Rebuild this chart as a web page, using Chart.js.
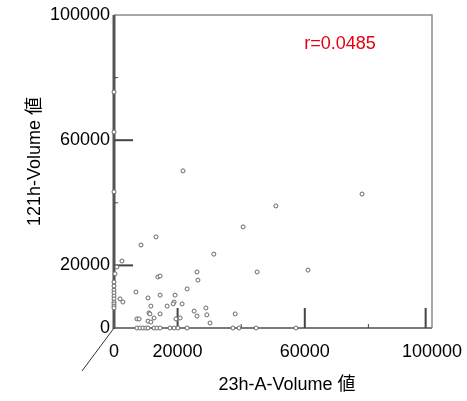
<!DOCTYPE html>
<html>
<head>
<meta charset="utf-8">
<script src="https://cdn.jsdelivr.net/npm/chart.js@4.4.1/dist/chart.umd.min.js"></script>
<style>
  body { margin: 0; background: #fff; }
  canvas { display: block; }
</style>
</head>
<body>
<canvas id="scatter" width="467" height="401"></canvas>
<script>
// values
const xValues = [
    0, 0, 0, 900, 300,
    0, 0, 0, 0, 0, 0, 0, 0, 0, 0,
    2500, 1900, 2800, 8500, 6900, 13800, 14500, 10700, 14500, 19200,
    11600, 18900, 18600, 16700, 21400, 11000, 11300, 14500, 12600, 7200,
    7900, 10700, 19500, 20800, 11600,
    7200, 8200, 9100, 10000, 10700, 12600, 13500, 14500, 17600, 18900, 20100,
    31400, 26100, 26400, 23000, 45000, 25200, 26100, 28900, 29200, 30200,
    23000, 38100, 37400, 39300, 44700, 61000, 57200, 40600, 50900, 78000,
    21700, 13200
];
const yValues = [
    75400, 62600, 43500, 19500, 17300,
    14700, 13400, 12100, 11200, 10200, 9300, 8300, 7700, 7000, 6400,
    21400, 9300, 8300, 26500, 11500, 16300, 16600, 9600, 10500, 10500,
    7000, 8300, 7700, 7000, 7700, 4800, 4500, 4500, 3200, 2900,
    2900, 2200, 2900, 3200, 1900,
    0, 0, 0, 0, 0, 0, 0, 0, 0, 0, 0,
    23600, 17900, 15300, 12500, 17900, 5400, 3800, 6400, 4200, 1600,
    0, 4500, 0, 0, 0, 18500, 0, 32300, 39000, 42800,
    50200, 29100
];
const xTicks = [0, 20000, 60000, 100000];
const yTicks = [0, 20000, 60000, 100000];
const xMajorMarks = [20000, 60000, 98000];
const xMinorMarks = [40000, 80000];
const yMajorMarks = [20000, 60000];
const yMinorMarks = [40000, 80000];
const xTitle = '23h-A-Volume 値';
const yTitle = '121h-Volume 値';
const rText = 'r=0.0485';

const FONT = "'Liberation Sans', 'Noto Sans CJK JP', sans-serif";

const points = xValues.map((x, i) => ({ x: x, y: yValues[i] }));

// frame, tick marks, titles
const frame = {
    id: 'frame',
    beforeDatasetsDraw(chart) {
        const ctx = chart.ctx;
        const a = chart.chartArea;
        const sx = chart.scales.x, sy = chart.scales.y;
        ctx.save();
        ctx.lineCap = 'butt';

        // top + right border
        ctx.strokeStyle = '#8a8a8a';
        ctx.lineWidth = 1.5;
        ctx.beginPath();
        ctx.moveTo(a.left, a.top);
        ctx.lineTo(a.right, a.top);
        ctx.lineTo(a.right, a.bottom);
        ctx.stroke();

        // bottom axis
        ctx.strokeStyle = '#7a7a7a';
        ctx.lineWidth = 2;
        ctx.beginPath();
        ctx.moveTo(a.left, a.bottom);
        ctx.lineTo(a.right, a.bottom);
        ctx.stroke();

        // left axis
        ctx.strokeStyle = '#555';
        ctx.lineWidth = 3;
        ctx.beginPath();
        ctx.moveTo(a.left, a.top);
        ctx.lineTo(a.left, a.bottom + 1);
        ctx.stroke();

        // tick marks (pointing into the plot)
        ctx.strokeStyle = '#444';
        ctx.lineWidth = 2;
        xMajorMarks.forEach(v => {
            const px = sx.getPixelForValue(v);
            ctx.beginPath();
            ctx.moveTo(px, a.bottom);
            ctx.lineTo(px, a.bottom - 20);
            ctx.stroke();
        });
        yMajorMarks.forEach(v => {
            const py = sy.getPixelForValue(v);
            ctx.beginPath();
            ctx.moveTo(a.left, py);
            ctx.lineTo(a.left + 19, py);
            ctx.stroke();
        });
        ctx.lineWidth = 1;
        xMinorMarks.forEach(v => {
            const px = sx.getPixelForValue(v);
            ctx.beginPath();
            ctx.moveTo(px, a.bottom);
            ctx.lineTo(px, a.bottom - 4);
            ctx.stroke();
        });
        yMinorMarks.forEach(v => {
            const py = sy.getPixelForValue(v);
            ctx.beginPath();
            ctx.moveTo(a.left, py);
            ctx.lineTo(a.left + 4, py);
            ctx.stroke();
        });

        // little diagonal below the origin
        ctx.strokeStyle = '#333';
        ctx.lineWidth = 1;
        ctx.beginPath();
        ctx.moveTo(a.left, a.bottom);
        ctx.lineTo(a.left - 32, a.bottom + 43);
        ctx.stroke();
        ctx.restore();
    },
    afterDraw(chart) {
        const ctx = chart.ctx;
        const a = chart.chartArea;
        ctx.save();
        ctx.font = '18px ' + FONT;
        ctx.fillStyle = '#000';
        ctx.textAlign = 'center';
        ctx.textBaseline = 'middle';
        ctx.fillText(xTitle, (a.left + a.right) / 2 + 14, 385);

        ctx.translate(35, (a.top + a.bottom) / 2 - 10);
        ctx.rotate(-Math.PI / 2);
        ctx.fillText(yTitle, 0, 0);
        ctx.restore();

        ctx.save();
        ctx.font = '18px ' + FONT;
        ctx.fillStyle = '#e60012';
        ctx.textAlign = 'center';
        ctx.textBaseline = 'middle';
        ctx.fillText(rText, 340, 44);
        ctx.restore();
    }
};

new Chart(document.getElementById('scatter'), {
    type: 'scatter',
    data: {
        datasets: [{
            data: points,
            pointRadius: 2,
            pointHoverRadius: 2,
            pointBorderWidth: 1,
            pointBorderColor: '#666',
            pointBackgroundColor: '#fff',
            clip: false
        }]
    },
    options: {
        responsive: false,
        animation: false,
        devicePixelRatio: 1,
        layout: { padding: { top: 15, right: 35, left: 0, bottom: 0 } },
        plugins: {
            legend: { display: false },
            tooltip: { enabled: false }
        },
        scales: {
            x: {
                type: 'linear',
                min: 0,
                max: 100000,
                grid: { display: false, drawTicks: false },
                border: { display: false },
                afterBuildTicks: s => { s.ticks = xTicks.map(v => ({ value: v })); },
                afterFit: s => { s.height = 73; s.paddingLeft = 0; s.paddingRight = 0; },
                ticks: {
                    autoSkip: false,
                    maxRotation: 0,
                    padding: 13,
                    color: '#000',
                    font: { family: FONT, size: 18 },
                    callback: v => String(v)
                }
            },
            y: {
                type: 'linear',
                min: 0,
                max: 100000,
                grid: { display: false, drawTicks: false },
                border: { display: false },
                afterBuildTicks: s => { s.ticks = yTicks.map(v => ({ value: v })); },
                afterFit: s => { s.width = 114; s.paddingTop = 0; s.paddingBottom = 0; },
                ticks: {
                    autoSkip: false,
                    padding: 4,
                    color: '#000',
                    font: { family: FONT, size: 18 },
                    callback: v => String(v)
                }
            }
        }
    },
    plugins: [frame]
});
</script>
</body>
</html>
